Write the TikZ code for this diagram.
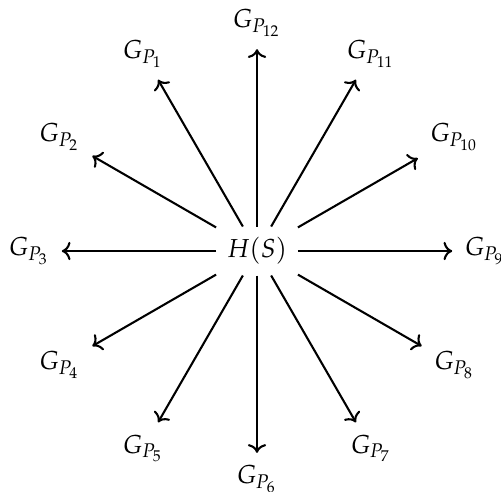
\documentclass[tikz,border=0pt]{standalone}
\usepackage{amsmath}
\usepackage{mathpazo}
\usepackage{tikz}
\usetikzlibrary{arrows.meta, calc}
\tikzset{
	hub/.style   ={inner sep=4pt},
	leaf/.style  ={inner sep=4.6pt},
	spoke/.style ={->, line width=0.8pt},
}

\begin{document}
\begin{tikzpicture}[every node/.style={font=\normalsize}]
	\useasboundingbox (-3.473,-3.243) rectangle (3.297,3.392);
	\node[hub] (hs) at (0,0) {$H(S)$};
	\foreach \i in {1,...,12}{
		\node[leaf] (g\i) at ({90+30*\i}:3.08) {$G_{P_{\i}}$};
		\draw[spoke] (hs) -- (g\i);
	}
\end{tikzpicture}
\end{document}
